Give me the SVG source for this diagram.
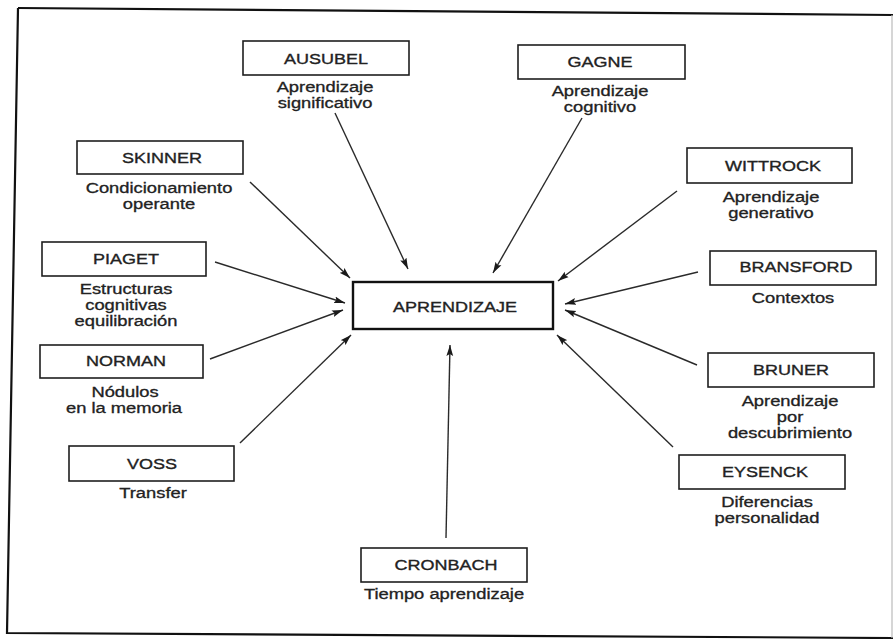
<svg xmlns="http://www.w3.org/2000/svg" width="895" height="639" viewBox="0 0 895 639">
<style>
  .bx{fill:#fff;stroke:#1e1e1e;stroke-width:1.6}
  .main{fill:#fff;stroke:#111;stroke-width:2.4}
  .nm{font-family:"Liberation Sans",Arial,sans-serif;font-size:15px;fill:#222;stroke:#222;stroke-width:0.35;text-anchor:middle}
  .lb{font-family:"Liberation Sans",Arial,sans-serif;font-size:14px;fill:#222;stroke:#222;stroke-width:0.3;text-anchor:middle}
  .cn{stroke:#2a2a2a;stroke-width:1.4;fill:none;marker-end:url(#ah)}
</style>
<defs>
  <marker id="ah" markerUnits="userSpaceOnUse" markerWidth="12" markerHeight="8" refX="11" refY="4" orient="auto">
    <path d="M0,0.6 L11,4 L0,7.4 L2,4 Z" fill="#1a1a1a"/>
  </marker>
</defs>
<rect x="0" y="0" width="895" height="639" fill="#fff"/>
<g id="frame">
  <path d="M18,8 L893,15" stroke="#111" stroke-width="2.2" fill="none"/>
  <path d="M18,8 L7,633 L893,638" stroke="#111" stroke-width="2.2" fill="none"/>
  <path d="M892,15 L892,638" stroke="#bbb" stroke-width="1.2" fill="none"/>
</g>
<g id="connectors">
  <line class="cn" x1="335" y1="113" x2="408" y2="269"/>
  <line class="cn" x1="582" y1="118" x2="493" y2="273"/>
  <line class="cn" x1="250" y1="182" x2="350" y2="278"/>
  <line class="cn" x1="677" y1="191" x2="558" y2="281"/>
  <line class="cn" x1="215" y1="262" x2="345" y2="303"/>
  <line class="cn" x1="698" y1="272" x2="565" y2="304"/>
  <line class="cn" x1="210" y1="359" x2="343" y2="310"/>
  <line class="cn" x1="697" y1="365" x2="565" y2="310"/>
  <line class="cn" x1="240" y1="443" x2="351" y2="335"/>
  <line class="cn" x1="673" y1="447" x2="557" y2="335"/>
  <line class="cn" x1="446" y1="538" x2="450" y2="345"/>
</g>
<g id="aprendizaje">
  <rect class="main" x="353" y="282" width="200" height="47"/>
  <text class="nm" transform="translate(455,312) scale(1.2,1)">APRENDIZAJE</text>
</g>
<g id="ausubel">
  <rect class="bx" x="243" y="41" width="166" height="34"/>
  <text class="nm" transform="translate(326,64) scale(1.2,1)">AUSUBEL</text>
  <text class="lb" transform="translate(325,92) scale(1.31,1)">Aprendizaje</text>
  <text class="lb" transform="translate(325,108) scale(1.31,1)">significativo</text>
</g>
<g id="gagne">
  <rect class="bx" x="518" y="45" width="167" height="34"/>
  <text class="nm" transform="translate(600,67) scale(1.2,1)">GAGNE</text>
  <text class="lb" transform="translate(600,96) scale(1.31,1)">Aprendizaje</text>
  <text class="lb" transform="translate(600,112) scale(1.31,1)">cognitivo</text>
</g>
<g id="skinner">
  <rect class="bx" x="77" y="141" width="166" height="33"/>
  <text class="nm" transform="translate(162,163) scale(1.2,1)">SKINNER</text>
  <text class="lb" transform="translate(159,193) scale(1.31,1)">Condicionamiento</text>
  <text class="lb" transform="translate(159,209) scale(1.31,1)">operante</text>
</g>
<g id="piaget">
  <rect class="bx" x="42" y="242" width="164" height="34"/>
  <text class="nm" transform="translate(126,264) scale(1.2,1)">PIAGET</text>
  <text class="lb" transform="translate(126,294) scale(1.31,1)">Estructuras</text>
  <text class="lb" transform="translate(126,310) scale(1.31,1)">cognitivas</text>
  <text class="lb" transform="translate(126,326) scale(1.31,1)">equilibración</text>
</g>
<g id="norman">
  <rect class="bx" x="40" y="345" width="163" height="33"/>
  <text class="nm" transform="translate(126,366) scale(1.2,1)">NORMAN</text>
  <text class="lb" transform="translate(125,397) scale(1.31,1)">Nódulos</text>
  <text class="lb" transform="translate(124,413) scale(1.31,1)">en la memoria</text>
</g>
<g id="voss">
  <rect class="bx" x="69" y="446" width="165" height="35"/>
  <text class="nm" transform="translate(152,469) scale(1.2,1)">VOSS</text>
  <text class="lb" transform="translate(153,498) scale(1.31,1)">Transfer</text>
</g>
<g id="wittrock">
  <rect class="bx" x="687" y="148" width="165" height="35"/>
  <text class="nm" transform="translate(773,171) scale(1.2,1)">WITTROCK</text>
  <text class="lb" transform="translate(771,202) scale(1.31,1)">Aprendizaje</text>
  <text class="lb" transform="translate(771,218) scale(1.31,1)">generativo</text>
</g>
<g id="bransford">
  <rect class="bx" x="710" y="251" width="166" height="34"/>
  <text class="nm" transform="translate(796,272) scale(1.2,1)">BRANSFORD</text>
  <text class="lb" transform="translate(793,303) scale(1.31,1)">Contextos</text>
</g>
<g id="bruner">
  <rect class="bx" x="708" y="353" width="166" height="34"/>
  <text class="nm" transform="translate(791,375) scale(1.2,1)">BRUNER</text>
  <text class="lb" transform="translate(790,406) scale(1.31,1)">Aprendizaje</text>
  <text class="lb" transform="translate(790,422) scale(1.31,1)">por</text>
  <text class="lb" transform="translate(790,438) scale(1.31,1)">descubrimiento</text>
</g>
<g id="eysenck">
  <rect class="bx" x="679" y="455" width="166" height="34"/>
  <text class="nm" transform="translate(765,477) scale(1.2,1)">EYSENCK</text>
  <text class="lb" transform="translate(767,507) scale(1.31,1)">Diferencias</text>
  <text class="lb" transform="translate(767,523) scale(1.31,1)">personalidad</text>
</g>
<g id="cronbach">
  <rect class="bx" x="361" y="548" width="166" height="34"/>
  <text class="nm" transform="translate(446,570) scale(1.2,1)">CRONBACH</text>
  <text class="lb" transform="translate(444,599) scale(1.31,1)">Tiempo aprendizaje</text>
</g>
</svg>
